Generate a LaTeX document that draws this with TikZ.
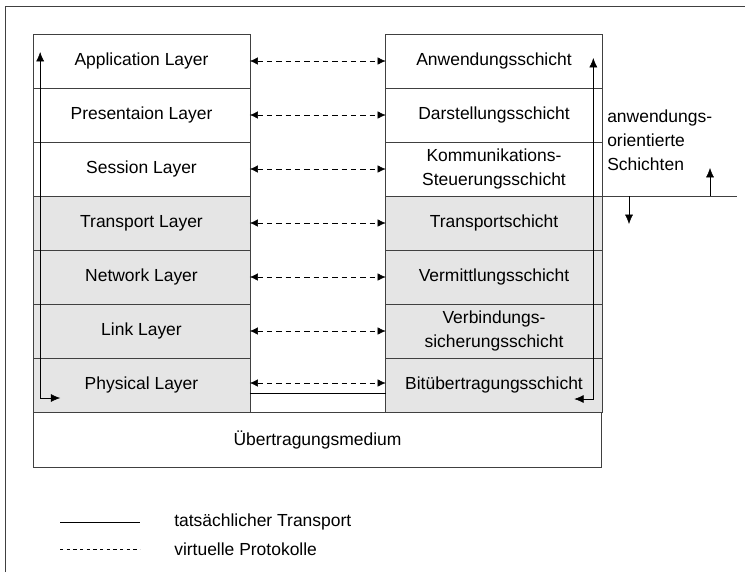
\documentclass[tikz,border=0pt]{standalone}
\usepackage{fontspec}
\setmainfont{Liberation Sans}
\usetikzlibrary{arrows.meta}
\definecolor{shade}{gray}{0.9}
\definecolor{rule}{gray}{0.25}
\begin{document}
\begin{tikzpicture}
  [x=0.75pt,y=-0.75pt
  ,layer/.style={rectangle,draw=rule,minimum width=162.5pt,minimum height=40.5pt,inner sep=0pt,outer sep=0pt,
                 align=center,font=\fontsize{13.1}{18}\selectfont}
  ,lower/.style={layer,fill=shade}
  ,virtual/.style={{Latex[length=6pt,width=5.5pt]}-{Latex[length=6pt,width=5.5pt]},dash pattern=on 4pt off 3pt}
  ,real/.style={{Latex[length=7pt,width=6pt]}-{Latex[length=7pt,width=6pt]}}
  ,legend/.style={font=\fontsize{13.1}{18}\selectfont,anchor=west}]
\useasboundingbox (0,0) rectangle (745,572);
\draw [rule] (5,572) |- (745,6);
% left stack
\node at (141.5,61)  (app)  [layer] {Application Layer};
\node at (141.5,115) (pres) [layer] {Presentaion Layer};
\node at (141.5,169) (sess) [layer] {Session Layer};
\node at (141.5,223) (trans) [lower] {Transport Layer};
\node at (141.5,277) (netw) [lower] {Network Layer};
\node at (141.5,331) (link) [lower] {Link Layer};
\node at (141.5,385) (phys) [lower] {Physical Layer};
% right stack
\node at (494,61)  (anw)   [layer] {Anwendungsschicht};
\node at (494,115) (darst) [layer] {Darstellungsschicht};
\node at (494,169) (komm)  [layer] {Kommunikations-\\Steuerungsschicht};
\node at (494,223) (transp) [lower] {Transportschicht};
\node at (494,277) (verm)  [lower] {Vermittlungsschicht};
\node at (494,331) (verb)  [lower] {Verbindungs-\\sicherungsschicht};
\node at (494,385) (bit)   [lower] {Bitübertragungsschicht};
% medium
\node at (317.5,439.5) (med) [layer,minimum width=426pt,minimum height=41.25pt] {Übertragungsmedium};
%
\draw [virtual] (app.east)   -- (anw.west);
\draw [virtual] (pres.east)  -- (darst.west);
\draw [virtual] (sess.east)  -- (komm.west);
\draw [virtual] (trans.east) -- (transp.west);
\draw [virtual] (netw.east)  -- (verm.west);
\draw [virtual] (link.east)  -- (verb.west);
\draw [virtual] ([yshift=1.5pt]phys.east) -- ([yshift=1.5pt]bit.west);
\draw ([yshift=-6pt]phys.east) -- ([yshift=-6pt]bit.west);
%
\draw [real] ([shift={(27,13)}]phys.west) -| ([shift={(7,-9)}]app.west);
\draw [real] ([shift={(-28,14)}]bit.east) -| ([shift={(-9,-3)}]anw.east);
% boundary of the application layers
\coordinate (bound) at (737,196);
\draw [rule] (transp.north east) -- (bound);
\draw [-{Latex[length=7pt,width=6pt]}] (710,196) -- (710,168);
\draw [-{Latex[length=7pt,width=6pt]}] (629,196) -- (629,224);
\node at (607,140) (orient) [legend,align=left,inner sep=0pt] {anwendungs-\\orientierte\\Schichten};
% legend
\coordinate (sa) at (60,522);
\coordinate (sb) at (140,522);
\coordinate (da) at (60,549);
\coordinate (db) at (140,549);
\draw (sa) -- (sb);
\draw [dash pattern=on 2.5pt off 2.5pt] (da) -- (db);
\node at (174,522) (tl) [legend,inner sep=0pt] {tatsächlicher Transport};
\node at (174,549) (vl) [legend,inner sep=0pt] {virtuelle Protokolle};
\end{tikzpicture}
\end{document}
